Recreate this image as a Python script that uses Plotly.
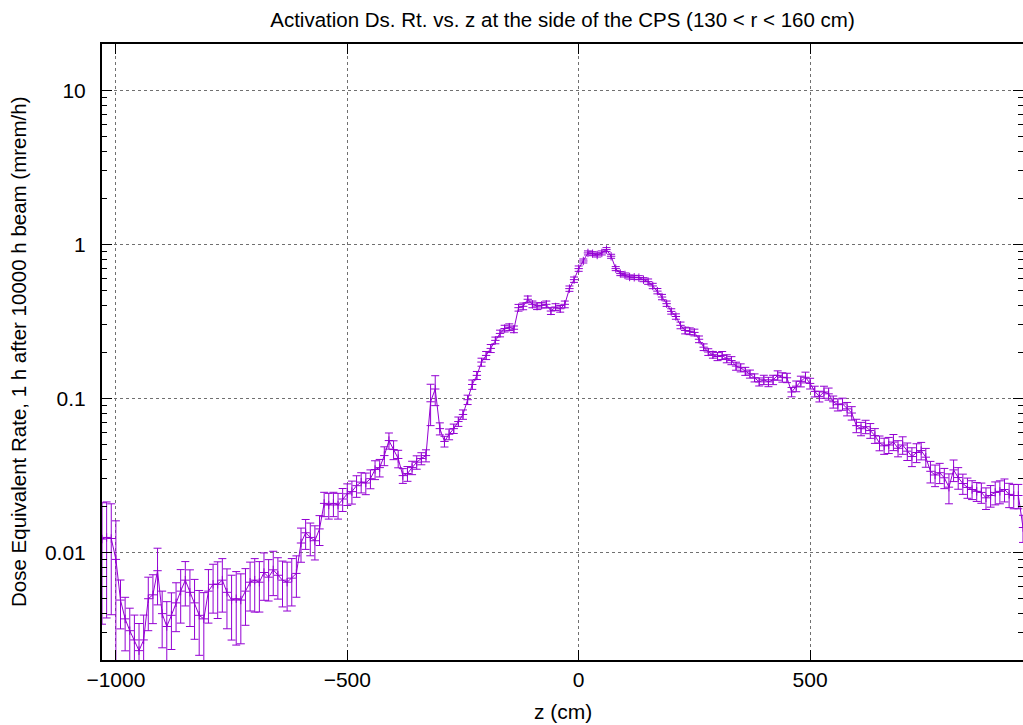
import math
import plotly.graph_objects as go

# ---------------- data ----------------
z_cm = list(range(-1030, 961, 10))  # bin centres (cm)

dose = [
    0.0122, 0.0125, 0.0123, 0.0090, 0.0049, 0.0037, 0.0031, 0.0027, 0.0023, 0.0027,
    0.0050, 0.0053, 0.0076, 0.0040, 0.0033, 0.0039, 0.0047, 0.0056, 0.0066, 0.0055,
    0.0047, 0.0039, 0.0037, 0.0056, 0.0062, 0.0062, 0.0066, 0.0055, 0.0049, 0.0050,
    0.0049, 0.0056, 0.0064, 0.0066, 0.0064, 0.0074, 0.0069, 0.0077, 0.0071, 0.0066,
    0.0064, 0.0068, 0.0073, 0.0115, 0.0134, 0.0125, 0.0119, 0.0142, 0.0208, 0.0203,
    0.0208, 0.0203, 0.0222, 0.0240, 0.0248, 0.0271, 0.0286, 0.0282, 0.0301, 0.0345,
    0.0355, 0.0425, 0.0532, 0.0465, 0.0407, 0.0315, 0.0325, 0.0355, 0.0385, 0.0407,
    0.0425, 0.095, 0.115, 0.0636, 0.0525, 0.0585, 0.0636, 0.0707, 0.0786, 0.098,
    0.123, 0.141, 0.172, 0.190, 0.211, 0.238, 0.264, 0.284, 0.290, 0.281,
    0.388, 0.396, 0.440, 0.408, 0.397, 0.402, 0.408, 0.369, 0.392, 0.382,
    0.408, 0.516, 0.590, 0.696, 0.780, 0.880, 0.870, 0.853, 0.880, 0.925,
    0.837, 0.696, 0.646, 0.633, 0.614, 0.611, 0.608, 0.590, 0.573, 0.537,
    0.497, 0.455, 0.412, 0.367, 0.340, 0.298, 0.276, 0.273, 0.268, 0.242,
    0.215, 0.200, 0.192, 0.187, 0.190, 0.181, 0.176, 0.162, 0.158, 0.150,
    0.144, 0.136, 0.128, 0.132, 0.128, 0.132, 0.141, 0.137, 0.136, 0.110,
    0.120, 0.129, 0.137, 0.125, 0.111, 0.103, 0.110, 0.107, 0.095, 0.091,
    0.092, 0.0855, 0.0803, 0.0665, 0.0635, 0.0655, 0.0618, 0.0573, 0.0513, 0.0492,
    0.0498, 0.0520, 0.0474, 0.0498, 0.0454, 0.0419, 0.0445, 0.0458, 0.0415, 0.0336,
    0.0318, 0.0329, 0.0305, 0.0265, 0.0343, 0.0306, 0.0280, 0.0264, 0.0256, 0.0249,
    0.0245, 0.0226, 0.0234, 0.0245, 0.0249, 0.0256, 0.0238, 0.0234, 0.0234, 0.0145,
]

rel_err_pct = [
    72, 70, 68, 78,
    35, 38, 40, 45, 50, 45, 38, 35, 40,
    40, 45, 40, 35, 38, 32, 40, 42, 45, 48,
    38, 35, 40, 38, 42, 45, 50, 48, 40, 35,
    38, 36, 34, 30, 32, 30, 33, 35, 34, 30,
    25, 22, 24, 25, 22, 18, 19, 18, 19, 17, 16,
    17, 16, 15, 16, 14, 14, 13, 14, 12, 14, 13, 11, 11, 10, 10, 9, 9,
    30, 22,
    9, 8, 8, 7, 7, 7, 7, 7, 6, 6, 6, 6, 5, 5, 5, 5, 5,
    5, 5, 5, 5, 5, 4, 5, 5, 5, 5, 5, 4, 4, 4, 3, 3, 3, 3, 3, 3,
    3, 3, 3, 3, 3, 3, 3, 3, 4, 4, 4,
    4, 4, 4, 4, 5, 5, 5, 5, 5, 5, 5, 5, 6, 6, 6, 6, 6, 6, 6, 6,
    6, 6, 7, 7, 7, 7, 7, 7, 7, 8, 8, 8,
    8, 8, 8, 9, 9, 9, 9, 9, 10, 10, 10, 10, 10, 11, 11, 11, 12, 12, 12, 12,
    13, 13, 14, 14, 13, 14, 16, 16, 15, 15, 22, 16, 16, 15, 15, 14, 14, 15, 16, 16,
    17, 17, 17, 18, 18, 18, 20,
]

x_tick_vals = [-1000, -500, 0, 500]
x_tick_text = ["\u22121000", "\u2212500", "0", "500"]
y_tick_vals = [0.01, 0.1, 1, 10]
y_tick_text = ["0.01", "0.1", "1", "10"]

title_text = "Activation Ds. Rt. vs. z at the side of the CPS (130 < r < 160 cm)"
x_title = "z (cm)"
y_title = "Dose Equivalent Rate, 1 h after 10000 h beam (mrem/h)"

# ---------------- style ----------------
PURPLE = "#9400D3"
FONT = "Liberation Sans, Arial, Helvetica, sans-serif"
GRID = "#707070"
Y_LO, Y_HI = 0.002, 20.0
TICK_SIZE = 21

err = [d * p / 100.0 for d, p in zip(dose, rel_err_pct)]
minor_vals = [m * 10 ** e for e in range(-3, 2) for m in range(2, 10)]

fig = go.Figure()
fig.add_trace(go.Scatter(
    x=z_cm, y=dose, mode="lines+markers",
    line=dict(color=PURPLE, width=1),
    marker=dict(symbol="cross-thin", size=6, color=PURPLE, line=dict(color=PURPLE, width=1)),
    error_y=dict(type="data", array=err, visible=True, color=PURPLE, thickness=1, width=4),
    showlegend=False, hoverinfo="x+y",
))
# invisible helper trace so the right-hand tick axis is drawn
fig.add_trace(go.Scatter(
    x=[z_cm[0]], y=[dose[0]], yaxis="y2", mode="markers",
    marker=dict(opacity=0), showlegend=False, hoverinfo="skip",
))

fig.update_layout(
    width=1023, height=725,
    margin=dict(l=102, r=0, t=44, b=65),
    paper_bgcolor="white", plot_bgcolor="white",
    font=dict(family=FONT, size=TICK_SIZE, color="black"),
    title=dict(text=title_text, x=0.5, xref="paper", xanchor="center",
               y=1 - 20 / 725, yref="container", yanchor="middle",
               font=dict(family=FONT, size=20.5, color="black")),
    xaxis=dict(
        range=[-1030, 960], tickmode="array", tickvals=x_tick_vals, ticktext=x_tick_text,
        ticks="inside", ticklen=10, tickwidth=1, tickcolor="black",
        showline=True, linecolor="black", linewidth=2, mirror="ticks",
        showgrid=True, gridcolor=GRID, gridwidth=1, griddash="dot",
        zeroline=False, tickfont=dict(size=TICK_SIZE),
    ),
    yaxis=dict(
        type="log", range=[math.log10(Y_LO), math.log10(Y_HI)],
        tickmode="array", tickvals=y_tick_vals, ticktext=y_tick_text,
        ticks="inside", ticklen=10, tickwidth=1, tickcolor="black",
        minor=dict(tickmode="array", tickvals=minor_vals, ticks="inside", ticklen=5,
                   tickwidth=1, tickcolor="black", showgrid=False),
        showline=True, linecolor="black", linewidth=2, mirror=False,
        showgrid=True, gridcolor=GRID, gridwidth=1, griddash="dot",
        zeroline=False, tickfont=dict(size=TICK_SIZE), ticklabelstandoff=10,
    ),
    yaxis2=dict(
        type="log", range=[math.log10(Y_LO), math.log10(Y_HI)], overlaying="y", side="right",
        tickmode="array", tickvals=y_tick_vals, showticklabels=False,
        ticks="inside", ticklen=10, tickwidth=1, tickcolor="black",
        minor=dict(tickmode="array", tickvals=minor_vals, ticks="inside", ticklen=5,
                   tickwidth=1, tickcolor="black", showgrid=False),
        showline=False, showgrid=False, zeroline=False,
    ),
    annotations=[
        dict(text=x_title, x=0.5, y=0, xref="paper", yref="paper", xanchor="center",
             yanchor="middle", yshift=-51, showarrow=False, font=dict(size=21)),
        dict(text=y_title, x=0, y=0.5, xref="paper", yref="paper", xanchor="center",
             yanchor="middle", xshift=-84, textangle=-90, showarrow=False, font=dict(size=20.5)),
    ],
)

fig.write_html("out.html", config={"displayModeBar": False},
               post_script="document.body.style.margin='0';")
